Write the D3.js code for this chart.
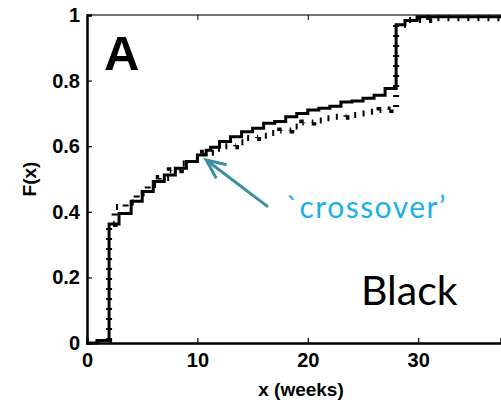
<!DOCTYPE html>
<html><head><meta charset="utf-8">
<script src="https://cdn.jsdelivr.net/npm/d3@7"></script>
<style>body{margin:0;background:#fff;}svg{display:block;}</style>
</head><body>
<svg id="c" width="501" height="403"></svg>
<script>
// Empirical CDF (solid): step positions (weeks) and F(x) after each step
const solidX = [0, 0.9, 2.0, 2.9, 4.0, 5.0, 6.0, 7.0, 8.0, 9.0, 10.0, 10.8, 11.2, 12.0, 13.0, 14.0, 15.0, 16.0, 17.0, 18.0, 19.0, 20.0, 21.0, 22.0, 23.0, 24.0, 25.0, 26.0, 27.0, 28.0, 28.8, 29.9, 37.5];
const solidY = [0, 0.008, 0.363, 0.395, 0.432, 0.462, 0.492, 0.512, 0.533, 0.553, 0.573, 0.588, 0.597, 0.614, 0.629, 0.644, 0.655, 0.670, 0.675, 0.690, 0.700, 0.710, 0.716, 0.722, 0.735, 0.738, 0.746, 0.755, 0.776, 0.970, 0.983, 0.995, 0.995];
// Second CDF (dash-dot)
const dashX = [1.98, 2.0, 2.5, 3.5, 4.5, 5.5, 6.5, 7.5, 8.5, 9.5, 10.5, 11.5, 12.5, 13.5, 14.5, 15.5, 16.5, 17.5, 18.5, 19.5, 20.5, 21.5, 22.5, 23.5, 24.5, 25.5, 26.5, 27.5, 28.0, 29.0, 31.0, 37.5];
const dashY = [0.01, 0.363, 0.415, 0.428, 0.456, 0.482, 0.503, 0.527, 0.547, 0.566, 0.58, 0.592, 0.60, 0.612, 0.625, 0.632, 0.64, 0.648, 0.66, 0.672, 0.678, 0.685, 0.69, 0.695, 0.70, 0.705, 0.71, 0.712, 0.97, 0.985, 0.99, 0.99];
const xTicks = [0, 10, 20, 30];
const yTicks = [0, 0.2, 0.4, 0.6, 0.8, 1];
const yTickLabels = ["0", "0.2", "0.4", "0.6", "0.8", "1"];
const arrowFrom = [16.4, 0.415];
const arrowTo = [10.8, 0.558];

const svg = d3.select("#c");
const x = d3.scaleLinear().domain([0, 37.5]).range([87, 501]);
const y = d3.scaleLinear().domain([0, 1]).range([343, 15]);

const line = d3.line().x(d => x(d[0])).y(d => y(d[1])).curve(d3.curveStepAfter);
const solid = solidX.map((v, i) => [v, solidY[i]]);
const dash = dashX.map((v, i) => [v, dashY[i]]);

// frame: top (thin grey)
svg.append("line").attr("x1", x(0)).attr("x2", 501).attr("y1", y(1)).attr("y2", y(1))
  .attr("stroke", "#444").attr("stroke-width", 1.5);

// dashed curve (perpendicular tick appearance)
svg.append("path").attr("d", line(dash)).attr("fill", "none")
  .attr("stroke", "#000").attr("stroke-width", 6).attr("stroke-dasharray", "2,8");
// solid curve
svg.append("path").attr("d", line(solid)).attr("fill", "none")
  .attr("stroke", "#000").attr("stroke-width", 3);

// axes
const fontT = "'Liberation Sans', Arial, sans-serif";
const xa = svg.append("g").attr("transform", `translate(0,${y(0)})`)
  .call(d3.axisBottom(x).tickValues(xTicks).tickSize(-5).tickPadding(10).tickFormat(d3.format("d")));
const ya = svg.append("g").attr("transform", `translate(${x(0)},0)`)
  .call(d3.axisLeft(y).tickValues(yTicks).tickSize(-5).tickPadding(7).tickFormat((d, i) => yTickLabels[i]));
// top ticks
svg.append("g").attr("transform", `translate(0,${y(1)})`)
  .call(d3.axisTop(x).tickValues(xTicks.slice(1)).tickSize(-5).tickFormat(""))
  .select(".domain").remove();
[xa, ya].forEach(a => {
  a.select(".domain").attr("stroke", "#000").attr("stroke-width", 2.5);
  a.selectAll(".tick line").attr("stroke", "#000").attr("stroke-width", 1.2);
  a.selectAll(".tick text").attr("font-family", fontT).attr("font-weight", "bold")
    .attr("font-size", 20).attr("fill", "#000");
});

// axis labels
svg.append("text").attr("x", 301).attr("y", 396).attr("text-anchor", "middle")
  .attr("font-family", fontT).attr("font-weight", "bold").attr("font-size", 19).text("x (weeks)");
svg.append("text").attr("transform", "translate(36,179) rotate(-90)").attr("text-anchor", "middle")
  .attr("font-family", fontT).attr("font-weight", "bold").attr("font-size", 19).text("F(x)");

// panel letter
svg.append("text").attr("x", 104).attr("y", 70).attr("font-family", fontT)
  .attr("font-weight", "bold").attr("font-size", 49).text("A");
// group label
svg.append("text").attr("x", 361).attr("y", 305).attr("font-family", "Lato, sans-serif")
  .attr("font-size", 41).attr("fill", "#000").text("Black");
// annotation
svg.append("text").attr("x", 286).attr("y", 218).attr("font-family", "Lato, sans-serif")
  .attr("font-size", 30).attr("letter-spacing", 1.5).attr("fill", "#1ab0ea").text("`crossover’");

const ax0 = x(arrowFrom[0]), ay0 = y(arrowFrom[1]), ax1 = x(arrowTo[0]), ay1 = y(arrowTo[1]);
const ang = Math.atan2(ay0 - ay1, ax0 - ax1);
const hl = 21, ha = 0.42;
svg.append("path")
  .attr("d", `M${ax0},${ay0}L${ax1},${ay1}M${ax1 + hl * Math.cos(ang - ha)},${ay1 + hl * Math.sin(ang - ha)}L${ax1},${ay1}L${ax1 + hl * Math.cos(ang + ha)},${ay1 + hl * Math.sin(ang + ha)}`)
  .attr("fill", "none").attr("stroke", "#3b8fa1").attr("stroke-width", 3);
</script>
</body></html>
